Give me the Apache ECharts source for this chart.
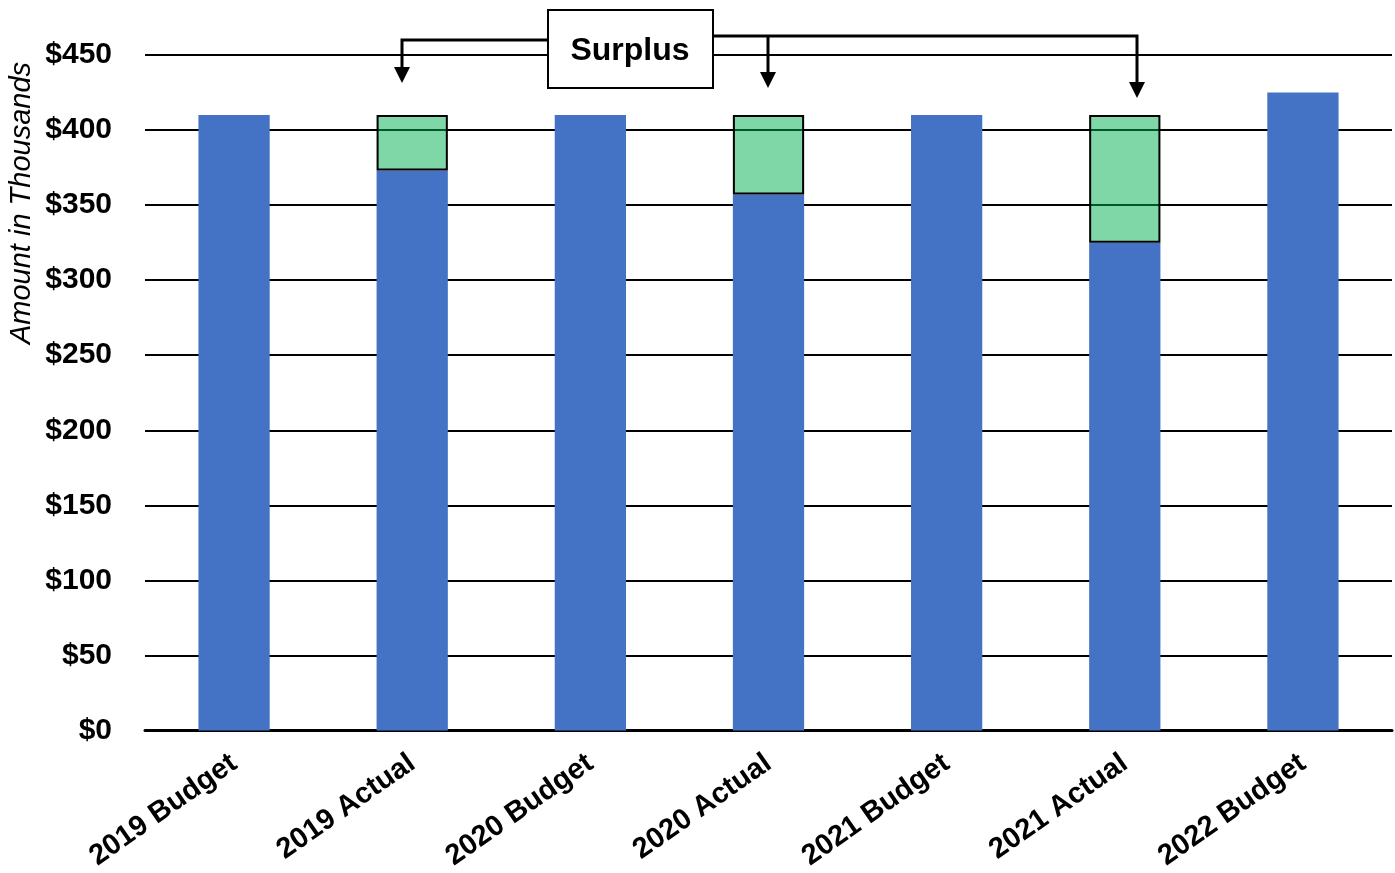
<!DOCTYPE html>
<html>
<head>
<meta charset="utf-8">
<title>Budget vs Actual</title>
<script src="https://cdn.jsdelivr.net/npm/echarts@6/dist/echarts.min.js"></script>
<style>
  html, body { margin: 0; padding: 0; background: #fff; }
  #chart { width: 1395px; height: 873px; }
</style>
</head>
<body>
<div id="chart"></div>
<script>
  // categories and values (thousands of $)
  const categories = ['2019 Budget', '2019 Actual', '2020 Budget', '2020 Actual', '2021 Budget', '2021 Actual', '2022 Budget'];
  const spentValues = [410, 373, 410, 357, 410, 325, 425];
  const surplusValues = ['-', 37, '-', 53, '-', 85, '-'];
  const yTicks = [0, 50, 100, 150, 200, 250, 300, 350, 400, 450];

  const FONT = 'Arial, "Liberation Sans", sans-serif';

  let myChart = echarts.init(document.getElementById('chart'));

  // arrow head pointing down, tip at (x, y)
  function arrowHead(x, y) {
    return {
      type: 'polygon',
      zlevel: 1,
      shape: { points: [[x - 8, y - 16], [x + 8, y - 16], [x, y]] },
      style: { fill: '#000' }
    };
  }
  function connector(points) {
    return {
      type: 'polyline',
      zlevel: 1,
      shape: { points: points },
      style: { stroke: '#000', lineWidth: 3, fill: null }
    };
  }

  let option = {
    animation: false,
    grid: { left: 145, right: 3, top: 55, bottom: 142, containLabel: false },
    xAxis: {
      type: 'category',
      data: categories,
      axisLine: { lineStyle: { color: '#000', width: 3 } },
      axisTick: { show: false },
      axisLabel: {
        rotate: 35,
        margin: 30,
        color: '#000',
        fontFamily: FONT,
        fontWeight: 'bold',
        fontSize: 29
      }
    },
    yAxis: {
      type: 'value',
      min: yTicks[0],
      max: yTicks[yTicks.length - 1],
      interval: 50,
      axisLine: { show: false },
      axisTick: { show: false },
      splitLine: { lineStyle: { color: '#000', width: 2 } },
      axisLabel: {
        margin: 33,
        color: '#000',
        fontFamily: FONT,
        fontWeight: 'bold',
        fontSize: 30,
        formatter: v => '$' + v
      }
    },
    series: [
      {
        name: 'Spent',
        type: 'bar',
        stack: 'total',
        barWidth: '40%',
        data: spentValues,
        itemStyle: { color: '#4472C4' }
      },
      {
        name: 'Surplus',
        type: 'bar',
        stack: 'total',
        barWidth: '40%',
        data: surplusValues,
        itemStyle: { color: 'rgba(0,176,80,0.5)', borderColor: '#000', borderWidth: 2 }
      }
    ],
    graphic: [
      {
        type: 'text',
        x: 22, y: 203,
        rotation: Math.PI / 2,
        style: {
          text: 'Amount in Thousands',
          font: 'italic 29px ' + FONT,
          fill: '#000',
          align: 'center',
          verticalAlign: 'middle'
        }
      },
      connector([[548, 40], [402, 40], [402, 70]]),
      arrowHead(402, 83),
      connector([[713, 36], [1137, 36], [1137, 85]]),
      arrowHead(1137, 98),
      connector([[768, 36], [768, 75]]),
      arrowHead(768, 88),
      {
        type: 'rect',
        zlevel: 1,
        shape: { x: 548, y: 10, width: 165, height: 78 },
        style: { fill: '#fff', stroke: '#000', lineWidth: 2 }
      },
      {
        type: 'text',
        zlevel: 1,
        z: 10,
        x: 630, y: 51,
        style: {
          text: 'Surplus',
          font: 'bold 32px ' + FONT,
          fill: '#000',
          align: 'center',
          verticalAlign: 'middle'
        }
      }
    ]
  };

  myChart.setOption(option, true);
  window.addEventListener('resize', function () {
    myChart.resize();
  });
</script>
</body>
</html>
